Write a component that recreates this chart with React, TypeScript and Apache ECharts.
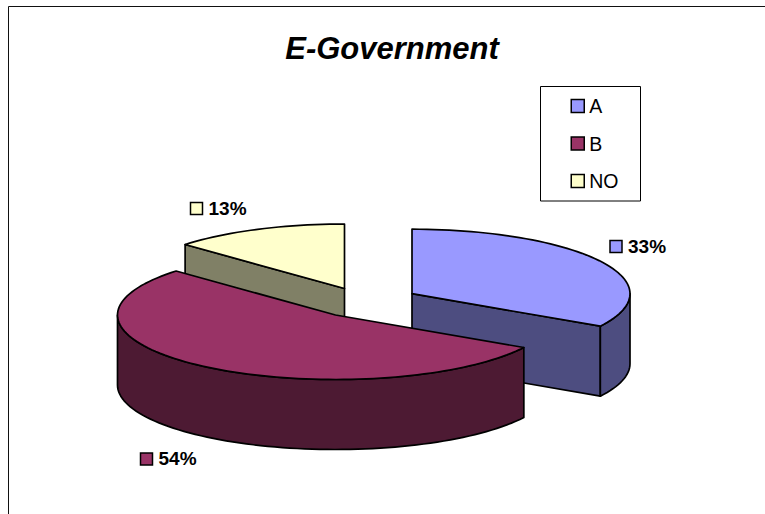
import React, { useEffect, useRef } from "react";
import * as echarts from "echarts";

const TITLE = "E-Government";
const categories = ["A", "B", "NO"];
const values = [33.4, 53.55, 13.05];
const topColors = ["#9999FF", "#993366", "#FFFFCC"];
const sideColors = ["#4D4D80", "#4D1A33", "#808066"];

const FONT = "'Liberation Sans', Arial, sans-serif";
const RX = 218;
const RY = 64.5;
const DEPTH = 70;
const STROKE = "#000";
// Exploded centre of each slice, paint order and label anchor.
const centres = [
  [412, 293.7],
  [335.5, 315],
  [344.5, 288.5],
];
const zOrder = [2, 3, 1];
const labelAnchors = [
  [610, 240.5],
  [140.5, 453],
  [190.5, 202.5],
];

const total = values.reduce((s, v) => s + v, 0);
const startAngles = values.map((_, i) =>
  values.slice(0, i).reduce((s, v) => s + (v / total) * 360, 0),
);

function pt(c: number[], deg: number, dy = 0): number[] {
  const t = (deg * Math.PI) / 180;
  return [c[0] + RX * Math.sin(t), c[1] - RY * Math.cos(t) + dy];
}
function arc(c: number[], a: number, b: number, dy = 0): number[][] {
  const n = Math.max(2, Math.ceil(Math.abs(b - a) / 2));
  const out: number[][] = [];
  for (let i = 0; i <= n; i++) out.push(pt(c, a + ((b - a) * i) / n, dy));
  return out;
}

function makeRender(idx: number) {
  return (_params: any, api: any) => {
    const v = api.value(0) as number;
    const a = startAngles[idx];
    const b = a + (v / total) * 360;
    const c = centres[idx];
    const style = (fill: string) => ({ fill, stroke: STROKE, lineWidth: 1.7, lineJoin: "round" });
    const children: any[] = [];
    const wall = (deg: number) => {
      const p = pt(c, deg);
      children.push({
        type: "polygon",
        shape: { points: [c, p, [p[0], p[1] + DEPTH], [c[0], c[1] + DEPTH]] },
        style: style(sideColors[idx]),
      });
    };
    if (a > 180 && a < 360) wall(a);
    if (b > 0 && b < 180) wall(b);
    const r0 = Math.max(a, 90);
    const r1 = Math.min(b, 270);
    if (r1 > r0) {
      children.push({
        type: "polygon",
        shape: { points: [...arc(c, r0, r1), ...arc(c, r1, r0, DEPTH)] },
        style: style(sideColors[idx]),
      });
    }
    children.push({
      type: "polygon",
      shape: { points: [c, ...arc(c, a, b)] },
      style: style(topColors[idx]),
    });
    const [lx, ly] = labelAnchors[idx];
    children.push({
      type: "rect",
      shape: { x: lx, y: ly, width: 12, height: 12 },
      style: { fill: topColors[idx], stroke: STROKE, lineWidth: 1.5 },
    });
    children.push({
      type: "text",
      x: lx + 18,
      y: ly + 5.5,
      style: {
        text: `${Math.round((v / total) * 100)}%`,
        fontFamily: FONT,
        fontWeight: "bold",
        fontSize: 19,
        fill: "#000",
        verticalAlign: "middle",
        align: "left",
      },
    });
    return { type: "group", children };
  };
}

export default function App() {
  const ref = useRef<HTMLDivElement>(null);
  useEffect(() => {
    const chart = echarts.init(ref.current!, undefined, { renderer: "svg" });
    chart.setOption({
      animation: false,
      backgroundColor: "#fff",
      title: {
        text: TITLE,
        left: 387,
        top: 28,
        textAlign: "center",
        textStyle: {
          fontFamily: FONT,
          fontSize: 31,
          fontStyle: "italic",
          fontWeight: "bold",
          color: "#000",
        },
      },
      legend: {
        orient: "vertical",
        left: 540.5,
        top: 86.5,
        data: categories,
        icon: "rect",
        itemWidth: 13,
        itemHeight: 13,
        itemGap: 17.5,
        padding: [9.5, 22, 10, 30],
        borderColor: "#000",
        borderWidth: 1,
        itemStyle: { borderColor: "#000", borderWidth: 1.5 },
        textStyle: { fontFamily: FONT, fontSize: 19.5, color: "#000" },
      },
      graphic: [
        {
          type: "polyline",
          shape: { points: [[8.5, 514], [8.5, 6.5], [765, 6.5]] },
          style: { fill: "none", stroke: "#111", lineWidth: 1 },
        },
      ],
      series: categories.map((name, i) => ({
        type: "custom",
        name,
        coordinateSystem: "none",
        z: zOrder[i],
        itemStyle: { color: topColors[i] },
        data: [[values[i]]],
        renderItem: makeRender(i),
        clip: false,
      })),
    });
    return () => chart.dispose();
  }, []);
  return (
    <div
      ref={ref}
      style={{ position: "absolute", left: 0, top: 0, width: 765, height: 514 }}
    />
  );
}
